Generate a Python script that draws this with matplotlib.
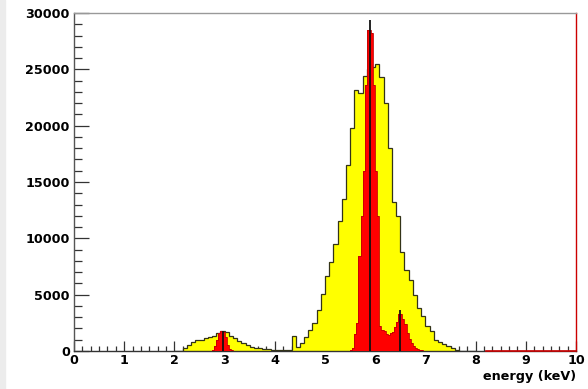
import numpy as np
import matplotlib.pyplot as plt
from matplotlib.ticker import MultipleLocator

plt.rcParams['font.family'] = ['DejaVu Sans']
plt.rcParams['font.weight'] = 'bold'

# yellow histogram: bins of 1/12 keV starting at 2.0 keV
y_bin = 1.0 / 12
y_start = 2.0
yellow_counts = [0, 0, 260, 530, 830, 980, 1000, 1150, 1270, 1350, 1600, 1800,
                 1650, 1350, 1150, 920, 740, 530, 380, 300, 250, 180, 150, 100,
                 80, 60, 60, 80, 1300, 380, 700, 1250, 1860, 2500, 3600, 5100,
                 6700, 7900, 9500, 11500, 13500, 16500, 19800, 23200, 22900, 24400, 25000, 25200,
                 25500, 24300, 22000, 18000, 13200, 12000, 8800, 7200, 6300, 5000, 3800, 3100,
                 2200, 1800, 1000, 800, 600, 450, 250, 120, 40, 0, 0, 0]

# red histogram: bins of 1/24 keV, two regions
r_bin = 1.0 / 24
red_lo_start = 2.75
red_lo_counts = [100, 400, 1000, 1600, 1750, 1700, 1200, 500, 150, 50]
red_hi_start = 5.5
red_hi_counts = [100, 270, 1500, 2500, 8400, 12000, 16000, 23600, 28500, 28500,
                 28250, 23600, 16000, 12000, 2200, 1900, 1800, 1500, 1400, 1600,
                 1700, 2100, 2600, 3300, 3300, 2800, 2400, 1600, 1100, 700,
                 400, 250, 200, 100, 60, 30]

# thin black lines
line_pos = [2.96, 5.9, 6.49]
line_top = [1750, 29400, 3600]

fig = plt.figure(figsize=(5.88, 3.89), dpi=100)
fig.patches.append(plt.Rectangle((0, 0), 0.009, 1, transform=fig.transFigure,
                                 color='#ececec', zorder=0))
ax = fig.add_axes([0.1259, 0.0977, 0.8537, 0.8689])

ye = y_start + y_bin * np.arange(len(yellow_counts) + 1)
ax.stairs(yellow_counts, ye, fill=True, color='#ffff00', zorder=2)
ax.stairs(yellow_counts, ye, color='#333318', lw=0.9, zorder=3)

for start, counts in [(red_lo_start, red_lo_counts), (red_hi_start, red_hi_counts)]:
    re = start + r_bin * np.arange(len(counts) + 1)
    ax.stairs(counts, re, fill=True, color='#ff0000', zorder=4)
    ax.stairs(counts, re, color='#c00000', lw=0.6, zorder=4)

ax.vlines(line_pos, 0, line_top, color='#111111', lw=1.3, zorder=5)

ax.set_xlim(0, 10)
ax.set_ylim(0, 30000)
ax.xaxis.set_major_locator(MultipleLocator(1))
ax.xaxis.set_minor_locator(MultipleLocator(1 / 6))
ax.yaxis.set_major_locator(MultipleLocator(5000))
ax.yaxis.set_minor_locator(MultipleLocator(1000))
ax.tick_params(axis='both', which='both', direction='in', colors='#333333',
               labelcolor='black', labelsize=9.2, width=0.9)
ax.tick_params(axis='y', which='major', length=11, pad=3)
ax.tick_params(axis='y', which='minor', length=5.5)
ax.tick_params(axis='x', which='major', length=7, pad=2)
ax.tick_params(axis='x', which='minor', length=3.5)
for t in ax.get_xticklabels() + ax.get_yticklabels():
    t.set_fontweight('bold')

ax.spines['left'].set_color('#555555')
ax.spines['bottom'].set_color('#333333')
ax.spines['top'].set_color('#999999')
ax.spines['right'].set_color('#cc0000')
for s in ax.spines.values():
    s.set_linewidth(1.0)
ax.axhline(0, xmin=0.82, xmax=1.0, color='#cc0000', lw=1.2, zorder=6, clip_on=False)

ax.set_xlabel('energy (keV)', fontsize=9.2, fontweight='bold', ha='right', va='top')
ax.xaxis.set_label_coords(1.0, -0.055)

fig.savefig('out.png', dpi=100)
